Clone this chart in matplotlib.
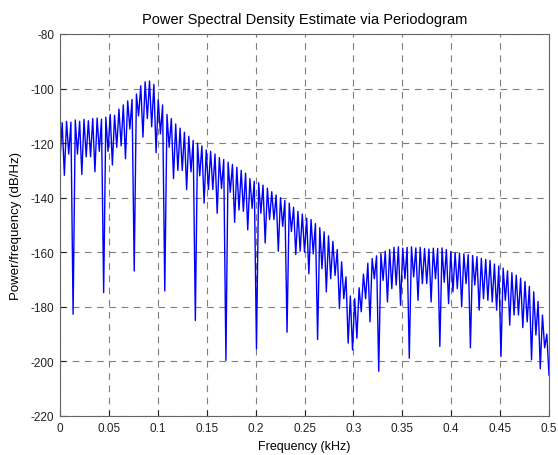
import numpy as np
import matplotlib
matplotlib.use("Agg")
import matplotlib.pyplot as plt

# Lobe null (dip) levels in dB/Hz, read left to right (113 values)
dips_db = [
    -126, -131.8, -124, -182.7, -124, -131.5, -125, -125, -130.5, -123,
    -174.8, -123, -128, -121.5, -121, -125.7, -114.8, -166.9, -110, -117.8,
    -111, -114, -123.5, -116.6, -174.2, -121.5, -133, -130, -130, -137,
    -130.5, -185, -132, -142, -137, -137, -145.7, -136.6, -199.6, -138,
    -149, -144.5, -145, -151.8, -143.9, -195.4, -145.7, -156.6, -148, -148,
    -159.6, -150.5, -189.3, -152.4, -160.8, -159.6, -160, -167.9, -160.6, -192,
    -166, -174.5, -169.7, -168.5, -180.6, -177, -193.3, -195.8, -191.5, -181.8,
    -177, -185.5, -169.7, -203.6, -170.3, -178.2, -173.3, -172, -179.4, -169.7,
    -198.8, -169, -177.6, -171.5, -171.5, -178.2, -169.7, -194.5, -171, -178.8,
    -174.5, -173.3, -180, -171.5, -195, -172, -181.2, -177, -177.6, -178.2,
    -181.2, -198.2, -177.6, -186.7, -183, -183, -187.6, -185.5, -199.4, -190.3,
    -202.7, -195, -205,
]

# Lobe peak levels in dB/Hz, read left to right (112 values)
peaks_db = [
    -112.5, -112, -112.3, -111.5, -112, -111.3, -111.8, -111, -110.8, -111.2,
    -110.5, -109.5, -109.8, -107.5, -106, -104.5, -104, -102, -99, -97.5,
    -97.2, -98.5, -104, -106, -109.5, -111, -113, -114.5, -116, -117.5,
    -119, -120, -121, -122.5, -123, -124, -125.3, -126, -127, -127.8,
    -128.8, -130, -131, -133, -134, -134.5, -135.4, -136.5, -137.8, -139,
    -140, -141, -142, -143.5, -145, -146, -147.5, -148, -149.5, -151,
    -152.5, -154, -156, -159, -163.5, -169, -176, -177, -173, -168,
    -164, -162.3, -161.3, -160.5, -159.6, -159, -158.2, -158, -158.5, -158.2,
    -158, -158.4, -158.2, -158.6, -158.8, -158.5, -158.6, -158.4, -159, -159.8,
    -160.2, -160.3, -160.6, -160.9, -161.2, -161.6, -162.2, -162.6, -163, -164.3,
    -165, -165.8, -166.8, -167.5, -168.4, -169.5, -170.7, -172.5, -174.5, -178,
    -183, -190,
]

f_start_khz = 0.0
f_stop_khz = 0.5
x_ticks = [0, 0.05, 0.1, 0.15, 0.2, 0.25, 0.3, 0.35, 0.4, 0.45, 0.5]
x_tick_labels = ["0", "0.05", "0.1", "0.15", "0.2", "0.25", "0.3", "0.35", "0.4", "0.45", "0.5"]
y_ticks = [-220, -200, -180, -160, -140, -120, -100, -80]
y_tick_labels = ["-220", "-200", "-180", "-160", "-140", "-120", "-100", "-80"]

# interleave dips and peaks
psd = []
for i, p in enumerate(peaks_db):
    psd.append(dips_db[i])
    psd.append(p)
psd.append(dips_db[-1])
psd = np.array(psd)
freq = np.linspace(f_start_khz, f_stop_khz, len(psd))

plt.rcParams['font.family'] = ['Liberation Sans', 'DejaVu Sans']
plt.rcParams['axes.unicode_minus'] = False

fig = plt.figure(figsize=(5.58, 4.56), dpi=100)
ax = fig.add_axes([60 / 558, 1 - 417 / 456, 489 / 558, 382 / 456])
ax.plot(freq, psd, color=(0, 0, 1), linewidth=1.0)

ax.set_xlim(0, 0.5)
ax.set_ylim(-220, -80)
ax.set_xticks(x_ticks)
ax.set_xticklabels(x_tick_labels)
ax.set_yticks(y_ticks)
ax.set_yticklabels(y_tick_labels)
ax.grid(True, linestyle=(0, (6, 5)), color='#7f7f7f', linewidth=0.8)
ax.tick_params(direction='in', length=4, labelsize=8.5, colors='#222222', pad=4)
for s in ax.spines.values():
    s.set_color('#666666')
    s.set_linewidth(0.8)

ax.set_title("Power Spectral Density Estimate via Periodogram", fontsize=10.5, pad=8)
ax.set_xlabel("Frequency (kHz)", fontsize=9, labelpad=5)
ax.set_ylabel("Power/frequency (dB/Hz)", fontsize=9.5, labelpad=6)

fig.savefig("out.png", dpi=100, facecolor='white')
